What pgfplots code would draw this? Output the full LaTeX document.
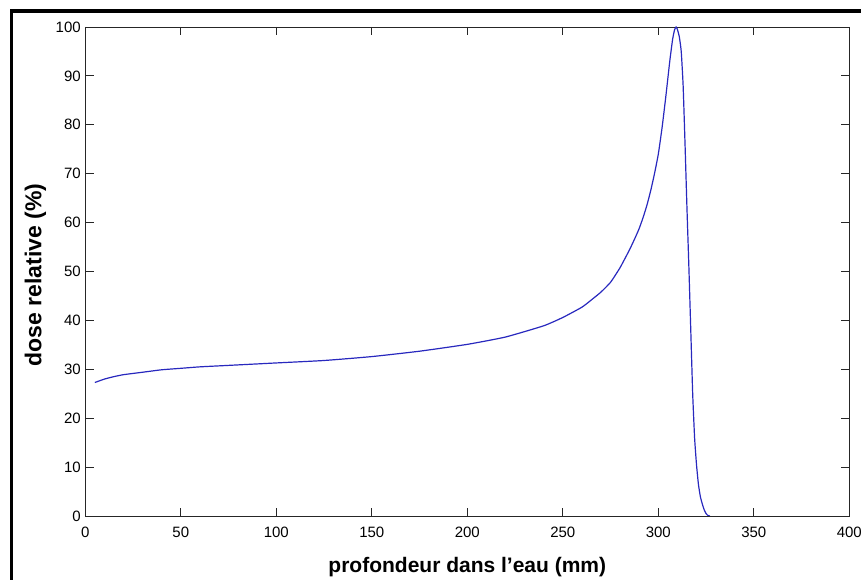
\documentclass[border=0pt]{standalone}
\usepackage{pgfplots}
\pgfplotsset{compat=1.18}
\usepackage{fontspec}
\setmainfont{Liberation Sans}
\definecolor{curveblue}{RGB}{40,40,190}
\begin{document}
\begin{tikzpicture}[x=1pt,y=1pt]
\useasboundingbox (0,0) rectangle (861,580);
\draw[line width=3.5pt] (11.7,0) -- (11.7,569) -- (861,569);
\begin{axis}[
  at={(85.3pt,64pt)}, anchor=south west,
  scale only axis, width=764pt, height=489pt,
  xmin=0, xmax=400, ymin=0, ymax=100,
  xtick={0,50,...,400}, ytick={0,10,...,100},
  tick align=inside, major tick length=8.5pt,
  axis line style={black!85, line width=0.8pt},
  tick style={black!85, line width=0.8pt},
  ticklabel style={font=\fontsize{15}{16}\selectfont},
  xticklabel style={yshift=-7pt},
  yticklabel style={xshift=-1pt},
  /pgf/number format/assume math mode=true,
  xlabel={\textbf{profondeur dans l\symbol{39}eau (mm)}},
  ylabel={\textbf{dose relative (\%)}},
  xlabel style={font=\fontsize{21}{24}\selectfont, at={(axis description cs:0.5,-0.1155)}, anchor=base},
  ylabel style={font=\fontsize{23}{26}\selectfont, at={(axis description cs:-0.0654,0.493)}, anchor=center},
]
\addplot[curveblue, line width=1.2pt, smooth, tension=0.3] coordinates {
(5,27.3) (10,28.0) (15,28.5) (20,28.9) (30,29.4) (40,29.9) (50,30.2) (60,30.5)
(75,30.8) (100,31.3) (125,31.8) (150,32.6) (175,33.7) (200,35.1) (220,36.6)
(240,38.9) (250,40.6) (260,42.7) (265,44.2) (270,45.8) (275,47.8) (280,50.8)
(285,54.5) (288,57) (290,58.8) (292,61) (294,63.5) (296,66.5) (298,70) (300,74)
(302,79.5) (304,86) (306,93) (307.5,97.5) (308.5,99.4) (309.3,100) (310,99.5)
(311,98) (312,95) (313,88) (314,76) (315,63) (316,51) (317,38) (318,25)
(319,16) (320,10.5) (321,6.5) (322,4) (323,2.5) (324,1.3) (325,0.5) (326,0.1) (327,0)
};
\end{axis}
\end{tikzpicture}
\end{document}
